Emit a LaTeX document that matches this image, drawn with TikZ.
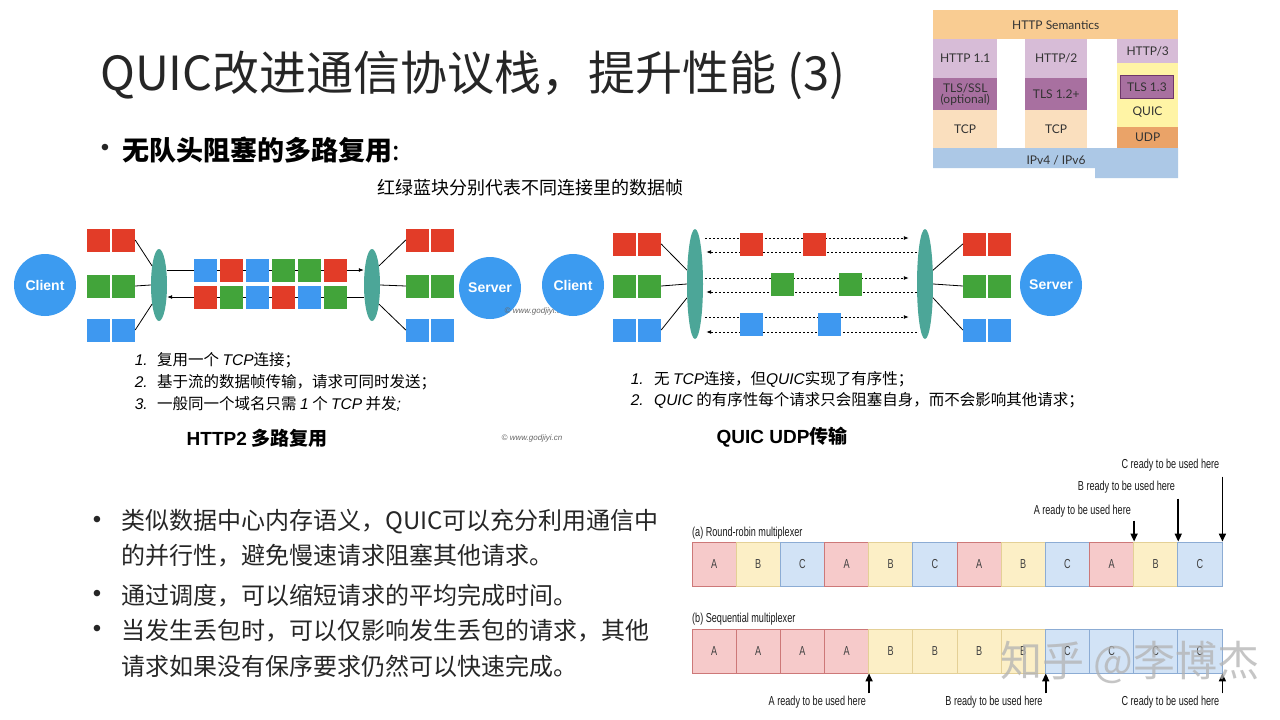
\documentclass[tikz,border=0pt]{standalone}
\usepackage{fontspec}
\usepackage{graphicx}
\setmainfont{Noto Sans CJK SC}
\newfontfamily\helv{Liberation Sans}
\newfontfamily\lato{Lato}
\usetikzlibrary{positioning, arrows.meta, shapes.geometric}

\definecolor{framered}{RGB}{226,60,40}
\definecolor{framegreen}{RGB}{66,164,58}
\definecolor{frameblue}{RGB}{62,152,240}
\definecolor{peerblue}{RGB}{60,155,240}
\definecolor{hubteal}{RGB}{76,166,152}
\definecolor{semorange}{RGB}{249,204,146}
\definecolor{httplilac}{RGB}{215,188,215}
\definecolor{tlspurple}{RGB}{168,112,160}
\definecolor{tlsedge}{RGB}{110,55,105}
\definecolor{tcppeach}{RGB}{250,223,190}
\definecolor{quicyellow}{RGB}{255,244,165}
\definecolor{udporange}{RGB}{234,163,104}
\definecolor{ipblue}{RGB}{172,200,230}
\definecolor{fillA}{RGB}{246,202,202}
\definecolor{edgeA}{RGB}{205,120,120}
\definecolor{fillB}{RGB}{252,239,198}
\definecolor{edgeB}{RGB}{228,208,150}
\definecolor{fillC}{RGB}{210,227,246}
\definecolor{edgeC}{RGB}{140,172,212}

\newcommand\lt[1]{{\helv\itshape #1}}
\newcommand\cond[1]{\scalebox{0.7}[1]{#1}}

\begin{document}
\begin{tikzpicture}[x=1pt, y=-1pt,
        title/.style={anchor=west, inner sep=0, text=black!85,
                      font=\fontsize{47}{49}\selectfont},
        headline/.style={anchor=west, inner sep=0,
                         font=\bfseries\fontsize{27}{29}\selectfont},
        note/.style={inner sep=0, font=\fontsize{18}{20}\selectfont},
        lnum/.style={anchor=east, inner sep=0, font=\helv\itshape\fontsize{15.5}{17}\selectfont},
        ltxt/.style={anchor=west, inner sep=0, font=\fontsize{15.5}{17}\selectfont},
        capt/.style={inner sep=0, font=\bfseries\fontsize{19}{21}\selectfont},
        wm/.style={inner sep=0, text=black!60, font=\helv\itshape\fontsize{8}{9}\selectfont},
        bul/.style={inner sep=0, text=black!85, font=\helv\fontsize{24}{26}\selectfont},
        body/.style={anchor=west, inner sep=0, text=black!85,
                     font=\fontsize{24}{26}\selectfont},
        peer/.style={circle, fill=peerblue, minimum size=62, inner sep=0, text=white,
                     font=\helv\bfseries\fontsize{14}{14}\selectfont},
        hub/.style={ellipse, fill=hubteal, minimum width=16, minimum height=72, inner sep=0},
        pkt/.style={minimum size=23, inner sep=0},
        link/.style={black, line width=0.8pt},
        chan/.style={black, line width=0.8pt, -{Latex[length=5pt,width=4pt]}},
        dotchan/.style={black, line width=0.9pt, dash pattern=on 2pt off 2pt,
                        -{Latex[length=5pt,width=4pt]}},
        stk/.style={anchor=north west, inner sep=0, text=black!80,
                    font=\lato\fontsize{12}{13}\selectfont},
        mux/.style={minimum width=44.17, minimum height=44, inner sep=0, line width=0.8pt,
                    text=black!75, font=\helv\fontsize{13}{13}\selectfont},
        muxlbl/.style={inner sep=0, text=black!90, font=\helv\fontsize{13}{14}\selectfont},
        ready/.style={black, line width=1.6pt, -{Triangle[length=8pt,width=7pt]}}
    ]
    \useasboundingbox[fill=white] (0,0) rectangle (1280,720);

    % title and heading
    \node[title] (title) at (100,75) {QUIC改进通信协议栈，提升性能 (3)};
    \node[bul] (hbul) at (105,150) {•};
    \node[headline] (head) at (122,150) {无队头阻塞的多路复用{\mdseries :}};
    \node[note] (legend) at (530,188) {红绿蓝块分别代表不同连接里的数据帧};

    % protocol stack
    \node[stk, fill=semorange, minimum width=245, minimum height=29] (sem) at (933,10) {HTTP Semantics};
    \node[stk, fill=httplilac, minimum width=64, minimum height=39] (h11) at (933,39) {HTTP 1.1};
    \node[stk, fill=tlspurple, minimum width=64, minimum height=32, align=center,
          font=\lato\fontsize{12}{11}\selectfont] (tls1) at (933,78) {TLS/SSL\\(optional)};
    \node[stk, fill=tcppeach, minimum width=64, minimum height=38] (tcp1) at (933,110) {TCP};
    \node[stk, fill=httplilac, minimum width=62, minimum height=39] (h2) at (1025,39) {HTTP/2};
    \node[stk, fill=tlspurple, minimum width=62, minimum height=32] (tls2) at (1025,78) {TLS 1.2+};
    \node[stk, fill=tcppeach, minimum width=62, minimum height=38] (tcp2) at (1025,110) {TCP};
    \node[stk, fill=httplilac, minimum width=61, minimum height=24] (h3) at (1117,39) {HTTP/3};
    \node[stk, fill=quicyellow, minimum width=61, minimum height=64] (quic) at (1117,63) {};
    \node[stk, fill=tlspurple, draw=tlsedge, line width=0.8pt,
          minimum width=53, minimum height=23] (tls3) at (1120,75) {TLS 1.3};
    \node[stk, anchor=center] (quictxt) at (1147.5,112) {QUIC};
    \node[stk, fill=udporange, minimum width=61, minimum height=21] (udp) at (1117,127) {UDP};
    \fill[ipblue] (933,148) -- (1178,148) -- (1178,178) -- (1095,178) -- (1095,168) -- (933,168) -- cycle;
    \node[stk, anchor=center] (ip) at (1056,160) {IPv4 / IPv6};

    % HTTP2 multiplexing
    \node[peer] (hclient) at (45,285) {Client};
    \node[hub] (hlhub) at (159,285) {};
    \node[hub] (hrhub) at (372,285) {};
    \node[peer] (hserver) at (490,288) {Server};
    \draw[chan] ([yshift=15]hlhub.east) -- ([yshift=15]hrhub.west);
    \draw[chan] ([yshift=-12]hrhub.west) -- ([yshift=-12]hlhub.east);
    \foreach \c [count=\i] in {frameblue,framered,frameblue,framegreen,framegreen,framered}
        \node[pkt, fill=\c] (hup\i) at (179+26*\i,270) {};
    \foreach \c [count=\i] in {framered,framegreen,frameblue,framered,frameblue,framegreen}
        \node[pkt, fill=\c] (hdn\i) at (179+26*\i,297) {};
    \foreach \c/\y/\n in {framered/240/r, framegreen/286/g, frameblue/330/b} {
        \node[pkt, fill=\c] (hl\n1) at (98.5,\y) {};
        \node[pkt, fill=\c] (hl\n2) at (123.5,\y) {};
        \node[pkt, fill=\c] (hr\n1) at (417.5,\y) {};
        \node[pkt, fill=\c] (hr\n2) at (442.5,\y) {};
    }
    \draw[link] (hlr2.east) -- (hlhub.110);
    \draw[link] (hlg2.east) -- (hlhub.west);
    \draw[link] (hlb2.east) -- (hlhub.250);
    \draw[link] (hrhub.70) -- (hrr1.west);
    \draw[link] (hrhub.east) -- (hrg1.west);
    \draw[link] (hrhub.290) -- (hrb1.west);
    \node[wm] (wm1) at (535,311) {© www.godjiyi.cn};

    % QUIC streams
    \node[peer] (qclient) at (573,285) {Client};
    \node[hub, minimum height=110] (qlhub) at (695,284) {};
    \node[hub, minimum height=110] (qrhub) at (925,284) {};
    \node[peer] (qserver) at (1051,285) {Server};
    \foreach \dy in {46,6,-33}
        \draw[dotchan, shorten <=2pt, shorten >=8pt] ([yshift=\dy]qlhub.east) -- ([yshift=\dy]qrhub.west);
    \foreach \dy in {32,-8,-48}
        \draw[dotchan, shorten >=3pt] ([yshift=\dy]qrhub.west) -- ([yshift=\dy]qlhub.east);
    \node[pkt, fill=framered] (qred1) at (751.5,244) {};
    \node[pkt, fill=framered] (qred2) at (814.5,244) {};
    \node[pkt, fill=framegreen] (qgreen1) at (782.5,284) {};
    \node[pkt, fill=framegreen] (qgreen2) at (850.5,284) {};
    \node[pkt, fill=frameblue] (qblue1) at (751.5,324) {};
    \node[pkt, fill=frameblue] (qblue2) at (829.5,324) {};
    \foreach \c/\y/\n in {framered/244/r, framegreen/286/g, frameblue/330/b} {
        \node[pkt, fill=\c] (ql\n1) at (624.5,\y) {};
        \node[pkt, fill=\c] (ql\n2) at (649.5,\y) {};
        \node[pkt, fill=\c] (qr\n1) at (974.5,\y) {};
        \node[pkt, fill=\c] (qr\n2) at (999.5,\y) {};
    }
    \draw[link] (qlr2.east) -- (qlhub.120);
    \draw[link] (qlg2.east) -- (qlhub.west);
    \draw[link] (qlb2.east) -- (qlhub.240);
    \draw[link] (qrhub.60) -- (qrr1.west);
    \draw[link] (qrhub.east) -- (qrg1.west);
    \draw[link] (qrhub.300) -- (qrb1.west);

    % numbered notes
    \node[lnum] (hn1) at (148,360) {1.};
    \node[ltxt] (ht1) at (157,360) {复用一个 \lt{TCP}连接；};
    \node[lnum] (hn2) at (148,382) {2.};
    \node[ltxt] (ht2) at (157,382) {基于流的数据帧传输，请求可同时发送；};
    \node[lnum] (hn3) at (148,404) {3.};
    \node[ltxt] (ht3) at (157,404) {一般同一个域名只需 \lt{1} 个 \lt{TCP} 并发\lt{;}};
    \node[capt] (hcap) at (257,438) {{\helv\bfseries HTTP2} 多路复用};
    \node[wm] (wm2) at (532,438) {© www.godjiyi.cn};

    \node[lnum] (qn1) at (644,379) {1.};
    \node[ltxt] (qt1) at (654,379) {无 \lt{TCP}连接，但\lt{QUIC}实现了有序性；};
    \node[lnum] (qn2) at (644,400) {2.};
    \node[ltxt] (qt2) at (654,400) {\lt{QUIC} 的有序性每个请求只会阻塞自身，而不会影响其他请求；};
    \node[capt] (qcap) at (782,437) {{\helv\bfseries QUIC UDP}传输};

    % bullets
    \node[bul] (b1) at (97,522) {•};
    \node[body] (t1a) at (121,522) {类似数据中心内存语义，QUIC可以充分利用通信中};
    \node[body] (t1b) at (121,556) {的并行性，避免慢速请求阻塞其他请求。};
    \node[bul] (b2) at (97,596) {•};
    \node[body] (t2) at (121,596) {通过调度，可以缩短请求的平均完成时间。};
    \node[bul] (b3) at (97,631) {•};
    \node[body] (t3a) at (121,631) {当发生丢包时，可以仅影响发生丢包的请求，其他};
    \node[body] (t3b) at (121,666) {请求如果没有保序要求仍然可以快速完成。};

    % multiplexers
    \node[muxlbl, anchor=west] (rrcap) at (692,533) {\cond{(a) Round-robin multiplexer}};
    \foreach \s [count=\i] in {A,B,C,A,B,C,A,B,C,A,B,C}
        \node[mux, fill=fill\s, draw=edge\s] (rr\i) at (669.9+44.17*\i,564) {\cond{\s}};
    \draw[ready] ([yshift=21]rr10.north east) -- (rr10.north east);
    \draw[ready] ([yshift=43]rr11.north east) -- (rr11.north east);
    \draw[ready] ([yshift=65]rr12.north east) -- (rr12.north east);
    \node[muxlbl, anchor=south east] (rdyA) at ([xshift=-3,yshift=24]rr10.north east) {\cond{A ready to be used here}};
    \node[muxlbl, anchor=south east] (rdyB) at ([xshift=-3,yshift=48]rr11.north east) {\cond{B ready to be used here}};
    \node[muxlbl, anchor=south east] (rdyC) at ([xshift=-3,yshift=70]rr12.north east) {\cond{C ready to be used here}};

    \node[muxlbl, anchor=west] (sqcap) at (692,619) {\cond{(b) Sequential multiplexer}};
    \foreach \s [count=\i] in {A,A,A,A,B,B,B,B,C,C,C,C}
        \node[mux, fill=fill\s, draw=edge\s] (sq\i) at (669.9+44.17*\i,651) {\cond{\s}};
    \draw[ready] ([yshift=-20]sq4.south east) -- (sq4.south east);
    \draw[ready] ([yshift=-20]sq8.south east) -- (sq8.south east);
    \draw[ready] ([yshift=-20]sq12.south east) -- (sq12.south east);
    \node[muxlbl, anchor=north east] (rdyA2) at ([xshift=-3,yshift=-22]sq4.south east) {\cond{A ready to be used here}};
    \node[muxlbl, anchor=north east] (rdyB2) at ([xshift=-3,yshift=-22]sq8.south east) {\cond{B ready to be used here}};
    \node[muxlbl, anchor=north east] (rdyC2) at ([xshift=-3,yshift=-22]sq12.south east) {\cond{C ready to be used here}};

    % watermark
    \node[inner sep=0, text=black!30, opacity=0.75, font=\fontsize{42}{44}\selectfont] (zhihu) at (1130,662) {知乎 @李博杰};
\end{tikzpicture}
\end{document}
